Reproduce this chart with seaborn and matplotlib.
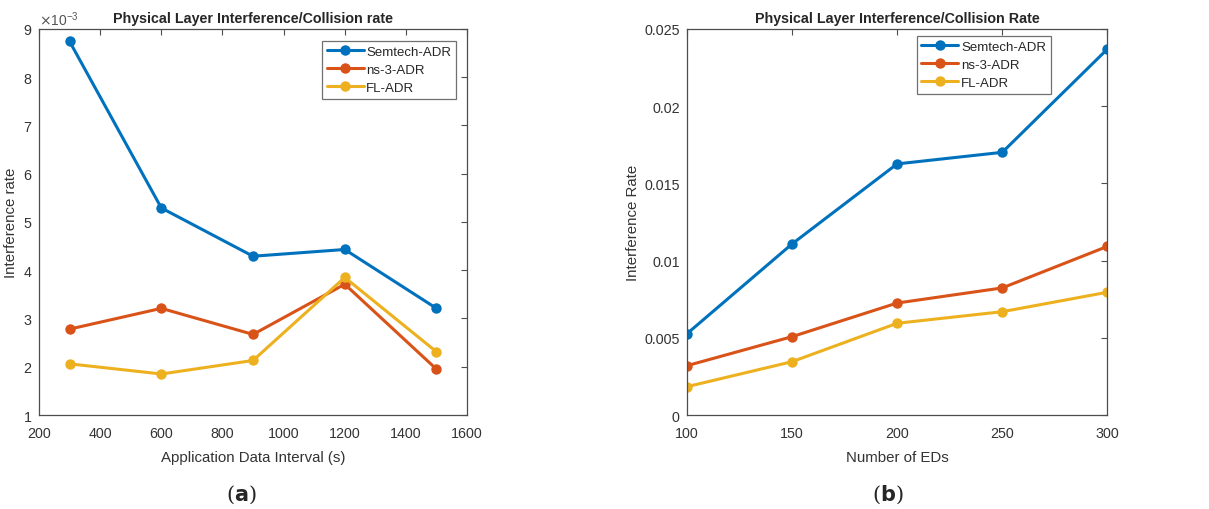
import numpy as np
import pandas as pd
import matplotlib
matplotlib.use("Agg")
import matplotlib.pyplot as plt
import seaborn as sns
from matplotlib.ticker import ScalarFormatter

# ---- data ----
series_names = ["Semtech-ADR", "ns-3-ADR", "FL-ADR"]
interval_s = [300, 600, 900, 1200, 1500]
semtech_a = [8.74e-3, 5.29e-3, 4.29e-3, 4.43e-3, 3.21e-3]
ns3_a = [2.78e-3, 3.21e-3, 2.67e-3, 3.71e-3, 1.95e-3]
fl_a = [2.06e-3, 1.85e-3, 2.13e-3, 3.85e-3, 2.31e-3]

num_eds = [100, 150, 200, 250, 300]
semtech_b = [0.00525, 0.01107, 0.01626, 0.01701, 0.02370]
ns3_b = [0.00319, 0.00507, 0.00725, 0.00823, 0.01092]
fl_b = [0.00183, 0.00345, 0.00594, 0.00669, 0.00795]

colors = ["#0072BD", "#D95319", "#EDB120"]

sns.set_theme(style="white")
plt.rcParams['font.family'] = ['Liberation Sans', 'DejaVu Sans']

def make_df(x, ys):
    rows = []
    for name, y in zip(series_names, ys):
        for xi, yi in zip(x, y):
            rows.append({"x": xi, "y": yi, "series": name})
    return pd.DataFrame(rows)

fig = plt.figure(figsize=(12.09, 5.10), dpi=100)
ax1 = fig.add_axes([0.0323, 0.1843, 0.354, 0.757])
ax2 = fig.add_axes([0.568, 0.1843, 0.348, 0.757])

df_a = make_df(interval_s, [semtech_a, ns3_a, fl_a])
df_b = make_df(num_eds, [semtech_b, ns3_b, fl_b])

edge = "#4d4d4d"
legend_anchor = {0: (0.974, 0.969), 1: (0.865, 0.982)}
for i, (ax, df) in enumerate([(ax1, df_a), (ax2, df_b)]):
    sns.lineplot(data=df, x="x", y="y", hue="series", palette=colors,
                 marker="o", markersize=7.5, markeredgewidth=0, linewidth=2.2,
                 ax=ax, legend=True)
    for s in ax.spines.values():
        s.set_color(edge)
        s.set_linewidth(0.9)
    ax.tick_params(direction="in", top=True, right=True, length=4,
                   color=edge, labelcolor="#333333", labelsize=10.3, width=0.8)
    ax.tick_params(axis="x", pad=8)
    ax.tick_params(axis="y", pad=5)
    leg = ax.legend(loc="upper right", bbox_to_anchor=legend_anchor[i],
                    frameon=True, fancybox=False,
                    fontsize=9.5, handlelength=2.8, handletextpad=0.2,
                    borderpad=0.35, labelspacing=0.45, borderaxespad=0)
    leg.get_frame().set_edgecolor(edge)
    leg.get_frame().set_linewidth(0.9)

ax1.set_xlim(200, 1600)
ax1.set_ylim(1e-3, 9e-3)
ax1.set_xticks([200, 400, 600, 800, 1000, 1200, 1400, 1600])
ax1.set_yticks(np.arange(1, 10) * 1e-3)
fmt = ScalarFormatter(useMathText=True)
fmt.set_powerlimits((-2, 2))
ax1.yaxis.set_major_formatter(fmt)
ax1.yaxis.get_offset_text().set_fontsize(10)
ax1.yaxis.get_offset_text().set_color("#555555")
ax1.set_title("Physical Layer Interference/Collision rate", fontsize=10.3,
              fontweight="bold", pad=5)
ax1.set_xlabel("Application Data Interval (s)", fontsize=10.8, color="#333333",
               labelpad=7)
ax1.set_ylabel("Interference rate", fontsize=10.8, color="#333333", labelpad=3)

ax2.set_xlim(100, 300)
ax2.set_ylim(0, 0.025)
ax2.set_xticks([100, 150, 200, 250, 300])
ax2.set_yticks([0, 0.005, 0.01, 0.015, 0.02, 0.025])
ax2.set_yticklabels(["0", "0.005", "0.01", "0.015", "0.02", "0.025"])
ax2.set_title("Physical Layer Interference/Collision Rate", fontsize=10.3,
              fontweight="bold", pad=5)
ax2.set_xlabel("Number of EDs", fontsize=10.8, color="#333333", labelpad=7)
ax2.set_ylabel("Interference Rate", fontsize=10.8, color="#333333", labelpad=3)

fig.text(0.200, 0.03, "(" + r"$\mathbf{a}$" + ")", ha="center", va="center",
         fontsize=15, family="DejaVu Serif")
fig.text(0.734, 0.03, "(" + r"$\mathbf{b}$" + ")", ha="center", va="center",
         fontsize=15, family="DejaVu Serif")

fig.savefig("out.png", dpi=100, facecolor="white")
